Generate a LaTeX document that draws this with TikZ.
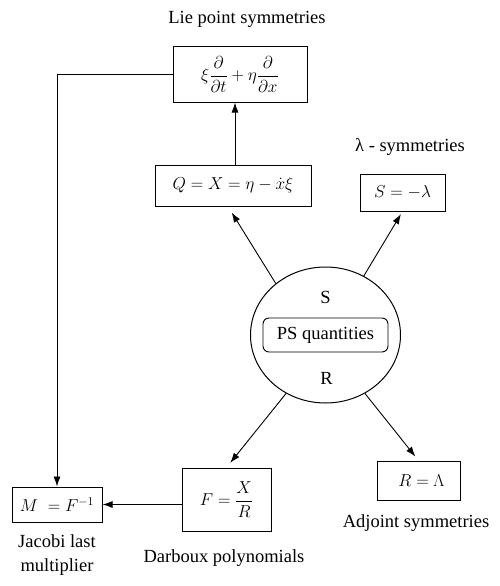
\documentclass[tikz,border=0pt]{standalone}
\usepackage{fontspec}
\setmainfont{Liberation Serif}
\usetikzlibrary{shapes.geometric,arrows.meta}
\begin{document}
\begin{tikzpicture}
    [
    x=1pt,y=-1pt,
    every node/.style={font=\fontsize{18.5}{24}\selectfont},
    box/.style={rectangle,draw,line width=1pt,inner sep=0pt},
    blob/.style={ellipse,draw,line width=1pt,inner sep=0pt,minimum width=150pt,minimum height=136pt},
    quantities/.style={rectangle,rounded corners=6pt,draw,line width=0.9pt,inner sep=0pt,minimum width=125pt,minimum height=34pt},
    arrow/.style={-{Latex[length=10pt,width=7pt]},line width=0.9pt}
    ]
    \useasboundingbox (0,0) rectangle (499,586);
    % boxes
    \node (lie) at (240,74.5) [box,minimum width=134pt,minimum height=55pt] {$\displaystyle\xi\frac{\partial}{\partial t}+\eta\frac{\partial}{\partial x}$};
    \node (q) at (233,185.5) [box,minimum width=156pt,minimum height=41pt] {$Q=X=\eta-\dot{x}\xi$};
    \node (sl) at (402.5,192.5) [box,minimum width=85pt,minimum height=37pt] {$S=-\lambda$};
    \node (ra) at (418.5,480.5) [box,minimum width=83pt,minimum height=39pt] {\hspace{6pt}$R=\Lambda$};
    \node (f) at (226.5,499.5) [box,minimum width=89pt,minimum height=63pt] {$\displaystyle F=\frac{X}{R}$};
    \node (m) at (57,504.5) [box,minimum width=90pt,minimum height=35pt] {$M\;=F^{-1}$};
    % centre
    \node (ps) at (325.5,335) [blob] {};
    \node (psq) at (325.5,335) [quantities] {PS quantities};
    \node (s) at (325.5,297) {S};
    \node (r) at (326.5,378) {R};
    % labels
    \node (lielabel) at (247,19) {Lie point symmetries};
    \node (lamlabel) at (410,147) {λ - symmetries};
    \node (adjlabel) at (416,523) {Adjoint symmetries};
    \node (darlabel) at (224,558) {Darboux polynomials};
    \node (jaclabel) at (57,555) [align=center] {Jacobi last\\multiplier};
    % connectors
    \draw [arrow] ([xshift=2pt]q.north) to ([xshift=2pt]q.north |- lie.south);
    \draw [arrow] (lie.west) -| (m.north);
    \draw [arrow] (f.west |- m.east) to (m.east);
    \draw [arrow,shorten >=7pt] (ps.134) to ([xshift=-5pt]q.south);
    \draw [arrow,shorten >=3pt] (ps.57) to (sl.south);
    \draw [arrow,shorten >=6pt] (ps.236) to (f.north);
    \draw [arrow,shorten >=5pt] (ps.304) to (ra.north);
  \end{tikzpicture}
\end{document}
